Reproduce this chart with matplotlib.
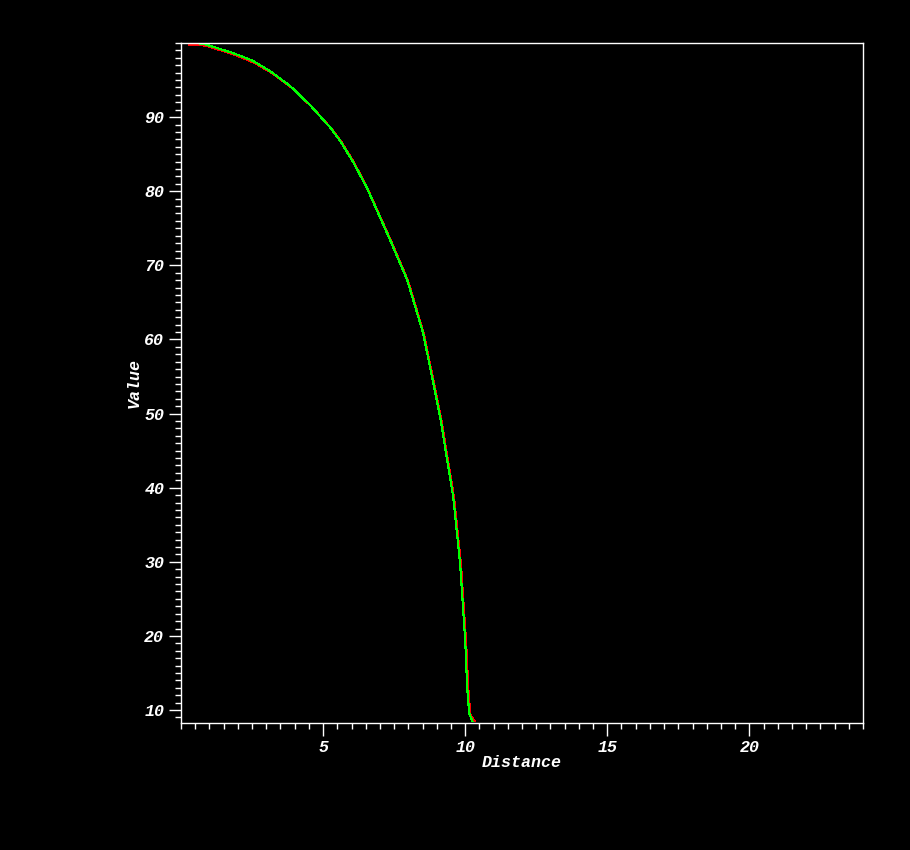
import numpy as np
import matplotlib
matplotlib.use('Agg')
import matplotlib.pyplot as plt
from matplotlib.ticker import MultipleLocator, FixedLocator
from matplotlib.font_manager import FontProperties

# curve values
dist_green = [0.0, 0.56, 0.85, 1.83, 2.54, 3.13, 3.84, 4.54, 5.25, 5.60, 6.05, 6.55,
              7.36, 7.96, 8.52, 9.12, 9.58, 9.82, 10.0, 10.07, 10.14, 10.25]
val_green = [100.0, 100.0, 99.82, 98.65, 97.57, 96.22, 94.2, 91.63, 88.6, 86.8, 84.0, 80.4,
             73.41, 68.02, 60.86, 49.53, 38.73, 29.82, 19.43, 13.09, 9.58, 8.5]
dist_red = [0.28, 0.7, 1.0, 1.9, 2.6, 3.2, 3.9, 4.6, 5.3, 5.65, 6.1, 6.58,
            7.39, 7.99, 8.55, 9.15, 9.61, 9.85, 10.03, 10.11, 10.18, 10.33]
val_red = [99.8, 99.75, 99.5, 98.4, 97.3, 95.95, 93.95, 91.4, 88.4, 86.6, 83.8, 80.2,
           73.3, 67.9, 60.7, 49.4, 38.6, 29.7, 19.3, 12.9, 9.4, 8.5]

font = {'family': 'Liberation Mono', 'weight': 'bold', 'style': 'italic', 'size': 12}

fig = plt.figure(figsize=(9.1, 8.5), dpi=100, facecolor='black')
ax = fig.add_axes([0.1989, 0.1494, 0.7495, 0.8])
ax.set_facecolor('black')

ax.plot(dist_red, val_red, color='#ff0000', lw=0.8, antialiased=False)
ax.plot(dist_green, val_green, color='#00ff00', lw=0.8, antialiased=False)

ax.set_xlim(0, 24)
ax.set_ylim(8.25, 100)
ax.xaxis.set_major_locator(FixedLocator([5, 10, 15, 20]))
ax.xaxis.set_minor_locator(MultipleLocator(0.5))
ax.yaxis.set_major_locator(FixedLocator([10, 20, 30, 40, 50, 60, 70, 80, 90]))
ax.yaxis.set_minor_locator(MultipleLocator(1))

for s in ax.spines.values():
    s.set_color('white')
    s.set_linewidth(1)
ax.tick_params(which='major', direction='out', length=9, width=1, colors='white', pad=3)
ax.tick_params(which='minor', direction='out', length=4, width=1, colors='white')
for lab in ax.get_xticklabels() + ax.get_yticklabels():
    lab.set_fontproperties(FontProperties(**font))
    lab.set_color('white')

ax.set_xlabel('Distance', color='white', labelpad=0, **font)
ax.set_ylabel('Value', color='white', labelpad=2, **font)

fig.savefig('out.png', facecolor='black')
